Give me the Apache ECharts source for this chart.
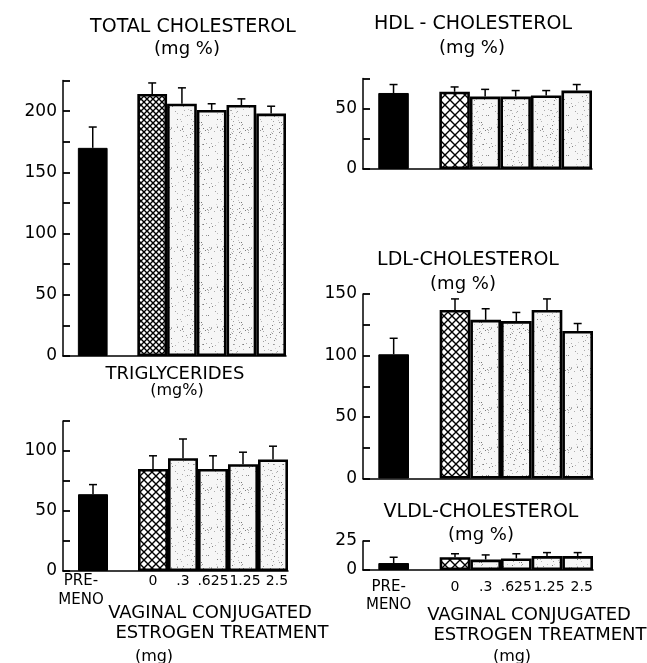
<!DOCTYPE html>
<html>
<head>
<meta charset="utf-8">
<script src="https://cdn.jsdelivr.net/npm/echarts@6/dist/echarts.min.js"></script>
<style>
  html, body { margin: 0; padding: 0; background: #fff; }
  #chart { width: 647px; height: 663px; }
</style>
</head>
<body>
<div id="chart"></div>
<script>
// Groups along the x scale: premenopausal, then the five vaginal estrogen doses after a gap
const groupLabels = ['PRE-\nMENO', '0', '.3', '.625', '1.25', '2.5'];
const groupPos = [0, 2, 3, 4, 5, 6];

// Means and standard errors (mg %)
const totalChol = [170, 214, 206, 201, 205, 198];
const totalCholSE = [17, 9, 13, 5, 5, 6];
const triglycerides = [64, 85, 94, 85, 89, 93];
const triglyceridesSE = [8, 11, 16, 11, 10, 11];
const hdlChol = [63, 64, 60, 60, 61, 65];
const hdlCholSE = [7, 4, 6, 5, 4, 5];
const ldlChol = [101, 137, 129, 128, 137, 120];
const ldlCholSE = [13, 9, 9, 7, 9, 6];
const vldlChol = [6, 11, 9, 10, 12, 12];
const vldlCholSE = [5, 3, 4, 4, 3, 3];

// Y-axis ranges
const yMaxTC = 225, yMaxTG = 125, yMaxHDL = 75, yMaxLDL = 150, yMaxVLDL = 25;

const FONT = '"DejaVu Sans", sans-serif';

// Cross-hatch fill for the untreated (0 mg) bar
function hatchPattern(s) {
  const c = document.createElement('canvas');
  c.width = s; c.height = s;
  const g = c.getContext('2d');
  g.fillStyle = '#fff'; g.fillRect(0, 0, s, s);
  g.strokeStyle = '#000'; g.lineWidth = 1.4;
  g.beginPath();
  g.moveTo(-1, -1); g.lineTo(s + 1, s + 1);
  g.moveTo(s + 1, -1); g.lineTo(-1, s + 1);
  g.stroke();
  return { image: c, repeat: 'repeat' };
}

// Fine stipple for the treated bars (fixed dot layout)
function stipplePattern() {
  const s = 40;
  const c = document.createElement('canvas');
  c.width = s; c.height = s;
  const g = c.getContext('2d');
  g.fillStyle = '#f6f6f6'; g.fillRect(0, 0, s, s);
  let seed = 7;
  const next = () => { seed = (seed * 1103515245 + 12345) % 2147483648; return seed / 2147483648; };
  for (let i = 0; i < 90; i++) {
    const x = Math.floor(next() * s), y = Math.floor(next() * s);
    const shade = 120 + Math.floor(next() * 90);
    g.fillStyle = 'rgb(' + shade + ',' + shade + ',' + shade + ')';
    g.fillRect(x, y, 1, 1);
  }
  return { image: c, repeat: 'repeat' };
}
const stipple = stipplePattern();

const panels = [
  { left: 63, top: 80.5, width: 223, height: 275.5, yMax: yMaxTC, vals: totalChol, se: totalCholSE, hatch: 6, xLabels: false },
  { left: 63, top: 421, width: 225, height: 150, yMax: yMaxTG, vals: triglycerides, se: triglyceridesSE, hatch: 8, xLabels: true, xMargin: 1, lineH: 19, preShift: 24 },
  { left: 363, top: 78.5, width: 229, height: 90.5, yMax: yMaxHDL, vals: hdlChol, se: hdlCholSE, hatch: 10, xLabels: false },
  { left: 363, top: 294, width: 230, height: 184.5, yMax: yMaxLDL, vals: ldlChol, se: ldlCholSE, hatch: 8, xLabels: false },
  { left: 363, top: 541, width: 230, height: 29, yMax: yMaxVLDL, vals: vldlChol, se: vldlCholSE, hatch: 10, xLabels: true, xMargin: 8, lineH: 18, preShift: 10, allY: true }
];

const grid = [], xAxis = [], yAxis = [], series = [];

panels.forEach((p, i) => {
  grid.push({ left: p.left, top: p.top, width: p.width, height: p.height, containLabel: false });
  const lh = p.lineH || 18;
  xAxis.push({
    type: 'value', gridIndex: i, min: -1, max: 6.5, interval: 1,
    axisLine: { show: true, onZero: false, lineStyle: { color: '#000', width: 1.5 } },
    axisTick: { show: false },
    splitLine: { show: false },
    axisLabel: {
      show: p.xLabels,
      margin: p.xMargin || 3,
      color: '#000', fontFamily: FONT, fontSize: 14, lineHeight: lh,
      showMaxLabel: false,
      rich: {
        pre: { fontFamily: FONT, fontSize: 15, lineHeight: lh, padding: [0, p.preShift || 0, 0, 0] },
        d: { fontFamily: FONT, fontSize: 14, lineHeight: lh },
        r1: { fontFamily: FONT, fontSize: 14, lineHeight: lh, padding: [0, 0, 0, 4] },
        r2: { fontFamily: FONT, fontSize: 14, lineHeight: lh, padding: [0, 0, 0, 8] }
      },
      formatter: v => {
        const k = groupPos.indexOf(v);
        if (k < 0) return '';
        if (k === 0) return groupLabels[k].split('\n').map(s => '{pre|' + s + '}').join('\n');
        if (k === 4) return '{r1|' + groupLabels[k] + '}';
        if (k === 5) return '{r2|' + groupLabels[k] + '}';
        return '{d|' + groupLabels[k] + '}';
      }
    }
  });
  yAxis.push({
    type: 'value', gridIndex: i, min: 0, max: p.yMax, interval: 25,
    axisLine: { show: true, onZero: false, lineStyle: { color: '#000', width: 1.5 } },
    axisTick: { show: true, inside: true, length: 7, lineStyle: { color: '#000', width: 1.8 } },
    splitLine: { show: false },
    axisLabel: {
      margin: 6, color: '#000', fontFamily: FONT, fontSize: 17,
      formatter: v => (p.allY || v % 50 === 0) ? String(v) : ''
    }
  });
  const slot = p.width / 7.5;
  const hatch = hatchPattern(p.hatch);
  series.push({
    type: 'bar', xAxisIndex: i, yAxisIndex: i,
    barWidth: slot, z: 2,
    data: groupPos.map((x, k) => ({
      value: [x, p.vals[k]],
      itemStyle: k === 0
        ? { color: '#000', borderColor: '#000', borderWidth: 1 }
        : { color: k === 1 ? hatch : stipple, borderColor: '#000', borderWidth: 2.6 }
    })),
    silent: true, animation: false
  });
  series.push({
    type: 'custom', xAxisIndex: i, yAxisIndex: i, z: 5,
    encode: { x: 0, y: 1 },
    data: groupPos.map((x, k) => [x, p.vals[k], p.se[k]]),
    renderItem: (params, api) => {
      const x = api.value(0), m = api.value(1), e = api.value(2);
      const b = api.coord([x, m]);
      const t = api.coord([x, m + e]);
      const st = { stroke: '#000', lineWidth: 1.5 };
      return {
        type: 'group',
        children: [
          { type: 'line', shape: { x1: b[0], y1: b[1], x2: t[0], y2: t[1] }, style: st },
          { type: 'line', shape: { x1: t[0] - 4, y1: t[1], x2: t[0] + 4, y2: t[1] }, style: st }
        ]
      };
    },
    silent: true, animation: false
  });
});

function label(text, x, y, size) {
  return {
    type: 'text', x: x, y: y, silent: true,
    style: { text: text, fill: '#000', font: size + 'px ' + FONT, align: 'center', verticalAlign: 'middle' }
  };
}

const graphic = [
  label('TOTAL CHOLESTEROL', 193, 27, 19),
  label('(mg %)', 187, 49, 18),
  label('HDL - CHOLESTEROL', 473, 24, 19),
  label('(mg %)', 472, 48.5, 18),
  label('LDL-CHOLESTEROL', 468, 260, 19),
  label('(mg %)', 463, 284, 18),
  label('TRIGLYCERIDES', 175, 374, 18),
  label('(mg%)', 177, 391, 16),
  label('VLDL-CHOLESTEROL', 481, 512, 19),
  label('(mg %)', 481, 535, 18),
  label('VAGINAL CONJUGATED', 210, 613, 18),
  label('ESTROGEN TREATMENT', 222, 633, 18),
  label('(mg)', 154, 657, 16),
  label('VAGINAL CONJUGATED', 529, 615, 18),
  label('ESTROGEN TREATMENT', 540, 635, 18),
  label('(mg)', 512, 657, 16)
];

const chart = echarts.init(document.getElementById('chart'), null, { renderer: 'canvas' });
chart.setOption({
  backgroundColor: '#fff',
  animation: false,
  grid: grid, xAxis: xAxis, yAxis: yAxis, series: series, graphic: graphic
});
</script>
</body>
</html>
